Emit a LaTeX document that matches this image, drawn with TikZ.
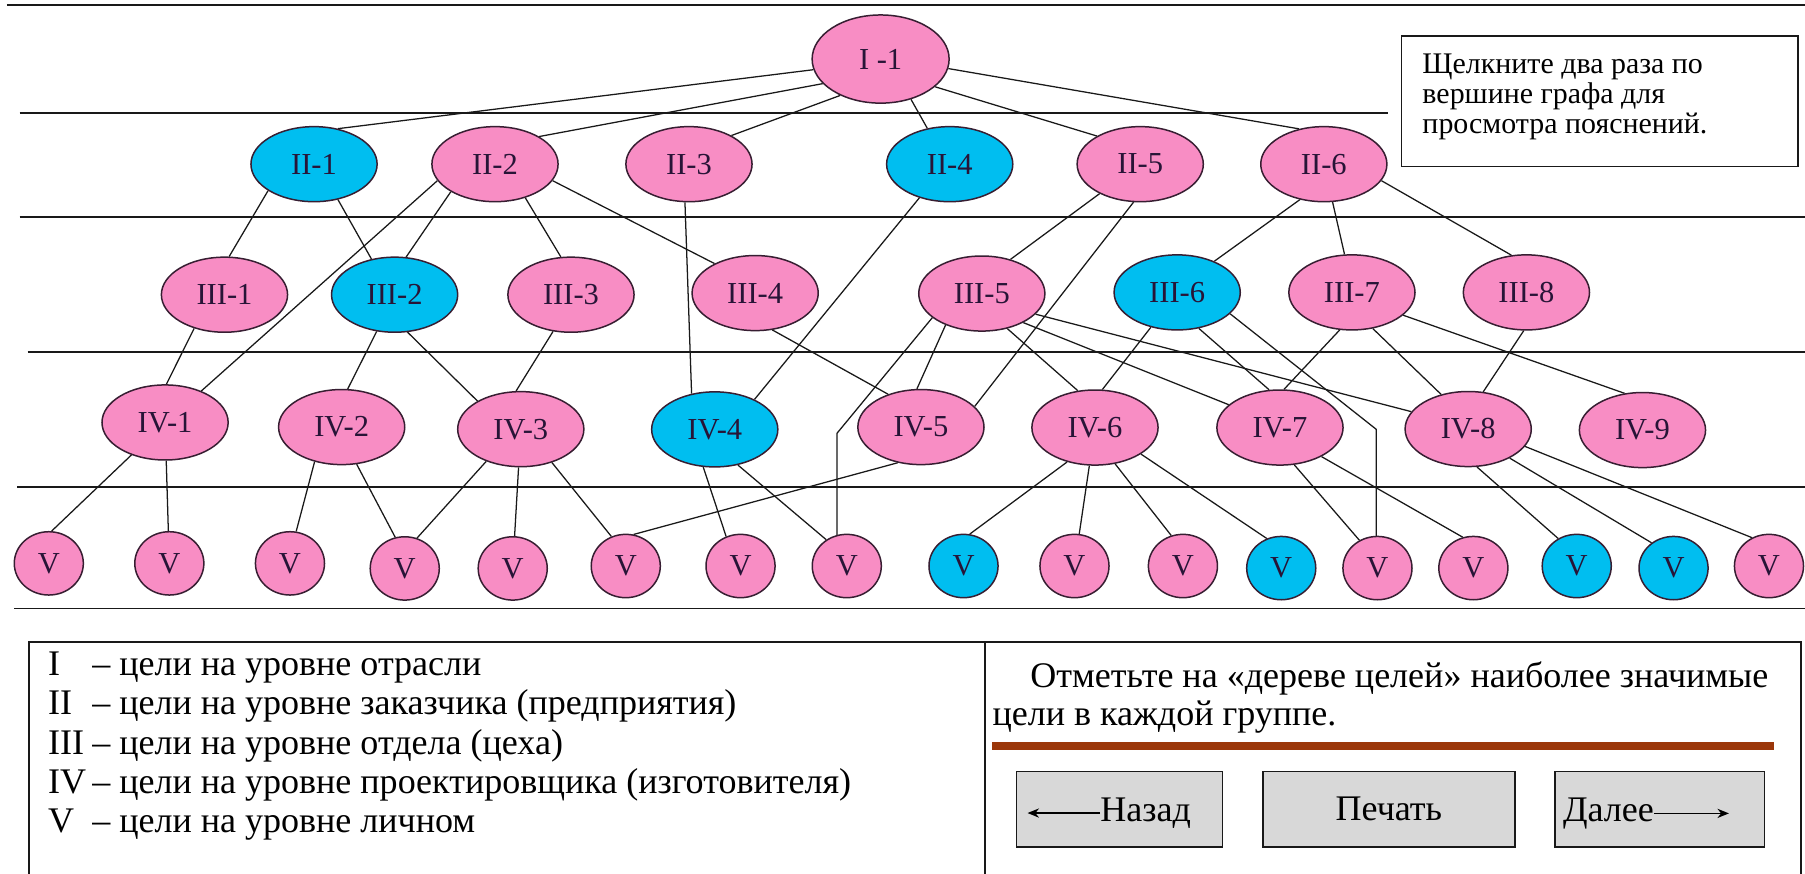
\documentclass[tikz,border=0pt]{standalone}
\usepackage{fontspec}
\setmainfont{Liberation Serif}
\usetikzlibrary{shapes.geometric,arrows.meta}
\pgfdeclarelayer{back}
\pgfsetlayers{back,main}

\definecolor{goalpink}{RGB}{248,141,196}
\definecolor{goalblue}{RGB}{0,190,240}
\definecolor{goalline}{RGB}{55,30,50}
\definecolor{goaltext}{RGB}{40,20,55}
\definecolor{barbrown}{RGB}{155,55,10}
\definecolor{btngray}{RGB}{216,216,216}

\tikzset{
  goal/.style={ellipse, draw=goalline, line width=1.3pt, inner sep=0pt,
    minimum width=109.6pt, minimum height=65.2pt, text=goaltext,
    font=\fontsize{26.5pt}{26.5pt}\selectfont},
  pk/.style={goal, fill=goalpink},
  bl/.style={goal, fill=goalblue},
  rootgoal/.style={pk, minimum width=119pt, minimum height=76.6pt},
  leafpk/.style={pk, minimum width=60pt, minimum height=55pt},
  leafbl/.style={bl, minimum width=60pt, minimum height=55pt},
  connector/.style={line width=1.1pt, draw=black!90},
  hrule/.style={line width=1.5pt, draw=black!90},
  panel/.style={draw=black!90, line width=1.5pt},
  btn/.style={draw=black!90, line width=1.3pt, fill=btngray, inner sep=0pt,
    minimum height=65.2pt, font=\fontsize{31.3pt}{31.3pt}\selectfont},
  txt/.style={inner sep=0pt, anchor=base west, font=\fontsize{31.3pt}{31.3pt}\selectfont},
  hinttxt/.style={inner sep=0pt, anchor=base west, font=\fontsize{26pt}{26pt}\selectfont},
  navarrow/.style={line width=1.4pt, -{Stealth[length=10pt,width=8pt]}},
}

\begin{document}
\begin{tikzpicture}[x=1pt,y=-1pt]
\useasboundingbox (0,0) rectangle (1568,759);

% level I
\node[rootgoal] (r) at (765,51.3) {I -1};
% level II
\node[bl] (a1) at (272.8,142.6) {II-1};
\node[pk] (a2) at (430,142.6) {II-2};
\node[pk] (a3) at (598.5,142.6) {II-3};
\node[bl] (a4) at (825,142.6) {II-4};
\node[pk] (a5) at (990.5,142.6) {II-5};
\node[pk] (a6) at (1150,142.6) {II-6};
% level III
\node[pk] (b1) at (195,256) {III-1};
\node[bl] (b2) at (342.8,256) {III-2};
\node[pk] (b3) at (496,256) {III-3};
\node[pk] (b4) at (656,254.6) {III-4};
\node[pk] (b5) at (852.9,255) {III-5};
\node[bl] (b6) at (1022.6,254) {III-6};
\node[pk] (b7) at (1174.4,254) {III-7};
\node[pk] (b8) at (1326,254) {III-8};
% level IV
\node[pk] (c1) at (143.4,367) {IV-1};
\node[pk] (c2) at (296.8,371) {IV-2};
\node[pk] (c3) at (452.4,372.8) {IV-3};
\node[bl] (c4) at (620.9,373) {IV-4};
\node[pk] (c5) at (800,371) {IV-5};
\node[pk] (c6) at (951.2,371.4) {IV-6};
\node[pk] (c7) at (1111.9,371.4) {IV-7};
\node[pk] (c8) at (1275.4,372.7) {IV-8};
\node[pk] (c9) at (1426.8,373.6) {IV-9};
% level V
\node[leafpk] (v1) at (42.4,489.4) {V};
\node[leafpk] (v2) at (147.1,489.4) {V};
\node[leafpk] (v3) at (251.9,489.4) {V};
\node[leafpk] (v4) at (351.6,493.8) {V};
\node[leafpk] (v5) at (445.4,493.8) {V};
\node[leafpk] (v6) at (543.6,491.7) {V};
\node[leafpk] (v7) at (643.3,491.7) {V};
\node[leafpk] (v8) at (735.6,491.7) {V};
\node[leafbl] (v9) at (837,491.7) {V};
\node[leafpk] (v10) at (933.4,491.7) {V};
\node[leafpk] (v11) at (1027.6,491.7) {V};
\node[leafbl] (v12) at (1113,493.5) {V};
\node[leafpk] (v13) at (1196.6,493.5) {V};
\node[leafpk] (v14) at (1279.9,493.5) {V};
\node[leafbl] (v15) at (1369.7,491.7) {V};
\node[leafbl] (v16) at (1453.8,493.5) {V};
\node[leafpk] (v17) at (1536.7,491.7) {V};

% bend points of the two broken connectors
\coordinate (k1) at (727,376.5);
\coordinate (k2) at (1195.6,373);

% hint box
\node[draw=black!90, line width=1.3pt, minimum width=344.7pt, minimum height=113.7pt, inner sep=0pt] (hint) at (1389.6,88) {};
\node[hinttxt] (h1) at (1235.5,64) {Щелкните два раза по};
\node[hinttxt] (h2) at (1235.5,90) {вершине графа для};
\node[hinttxt] (h3) at (1235.5,116) {просмотра пояснений.};

% legend
\node[txt] (lg1) at (41.6,587) {\makebox[38.4pt][l]{I}– цели на уровне отрасли};
\node[txt] (lg2) at (41.6,621) {\makebox[38.4pt][l]{II}– цели на уровне заказчика (предприятия)};
\node[txt] (lg3) at (41.6,655) {\makebox[38.4pt][l]{III}– цели на уровне отдела (цеха)};
\node[txt] (lg4) at (41.6,689) {\makebox[38.4pt][l]{IV}– цели на уровне проектировщика (изготовителя)};
\node[txt] (lg5) at (41.6,723) {\makebox[38.4pt][l]{V}– цели на уровне личном};

% instruction
\node[txt] (note1) at (894.9,597) {Отметьте на «дереве целей» наиболее значимые};
\node[txt] (note2) at (862,630) {цели в каждой группе.};

% buttons
\node[btn, minimum width=179pt] (bback) at (972.5,703) {};
\node[btn, minimum width=219pt] (bprint) at (1206.5,703) {Печать};
\node[btn, minimum width=182pt] (bnext) at (1442,703) {};
\node[txt] (nz) at (955.6,713.5) {Назад};
\node[txt] (dl) at (1357.6,713.5) {Далее};
\coordinate (nzend) at ([xshift=-63pt]nz.west);
\coordinate (dlend) at ([xshift=65pt]dl.east);
\draw[navarrow] (nz.west) -- (nzend);
\draw[navarrow] (dl.east) -- (dlend);

\begin{pgfonlayer}{back}
  \fill[white] (0,0) rectangle (1568,759);
  % level separators
  \draw[hrule] (6,4.3) -- (1568,4.3);
  \draw[hrule] (17,97.9) -- (1205.6,97.9);
  \draw[hrule] (17,188.5) -- (1568,188.5);
  \draw[hrule] (24,305.6) -- (1568,305.6);
  \draw[hrule] (15,423) -- (1568,423);
  \draw[hrule] (12.5,528.5) -- (1568,528.5);
  % lower panels
  \draw[panel] (24.9,759) -- (24.9,557.5) -- (1564.5,557.5) -- (1564.5,759);
  \draw[panel] (855.8,557.5) -- (855.8,759);
  \draw[line width=7pt, barbrown] (862,648) -- (1541,648);

  % I -> II
  \draw[connector] (r.189) -- (a1.56);
  \draw[connector] (r.203) -- (a2.32);
  \draw[connector] (r.222) -- (a3.34);
  \draw[connector] (r.307) -- (a4.122);
  \draw[connector] (r.333) -- (a5.147);
  \draw[connector] (r.352) -- (a6.125);
  % II -> III / IV
  \draw[connector] (a1.210) -- (b1.83);
  \draw[connector] (a1.304) -- (b2.123);
  \draw[connector] (a2.196) -- (c1.41);
  \draw[connector] (a2.212) -- (b2.73);
  \draw[connector] (a2.312) -- (b3.105);
  \draw[connector] (a2.344) -- (b4.144);
  \draw[connector] (a3.264) -- (c4.123);
  \draw[connector] (a4.228) -- (c4.37);
  \draw[connector] (a5.216) -- (b5.50);
  \draw[connector] (a5.260) -- (c5.21);
  \draw[connector] (a6.236) -- (b6.40);
  \draw[connector] (a6.283) -- (b7.101);
  \draw[connector] (a6.344) -- (b8.112);
  % III -> IV / V
  \draw[connector] (b1.228) -- (c1.88);
  \draw[connector] (b2.244) -- (c2.81);
  \draw[connector] (b2.289) -- (c3.147);
  \draw[connector] (b3.244) -- (c3.97);
  \draw[connector] (b4.295) -- (c5.135);
  \draw[connector] (b5.221) -- (c5.96);
  \draw[connector] (b5.206) -- (k1) -- (k1 |- v8.center);
  \draw[connector] (b5.306) -- (c6.115);
  \draw[connector] (b5.325) -- (c7.156);
  \draw[connector] (b5.339) -- (c8.163);
  \draw[connector] (b6.233) -- (c6.79);
  \draw[connector] (b6.301) -- (c7.106);
  \draw[connector] (b6.338) -- (k2) -- (k2 |- v13.center);
  \draw[connector] (b7.252) -- (c7.84);
  \draw[connector] (b7.300) -- (c8.128);
  \draw[connector] (b7.336) -- (c9.116);
  \draw[connector] (b8.266) -- (c8.68);
  % IV -> V
  \draw[connector] (c1.224) -- (v1.85);
  \draw[connector] (c1) -- (v2);
  \draw[connector] (c2.232) -- (v3.79);
  \draw[connector] (c2.292) -- (v4.107);
  \draw[connector] (c3.223) -- (v4.68);
  \draw[connector] (c3) -- (v5);
  \draw[connector] (c3.313) -- (v6.116);
  \draw[connector] (c4.253) -- (v7.116);
  \draw[connector] (c4.303) -- (v8.128);
  \draw[connector] (c5.237) -- (v6.76);
  \draw[connector] (c6.231) -- (v9.79);
  \draw[connector] (c6) -- (v10);
  \draw[connector] (c6.299) -- (v11.111);
  \draw[connector] (c6.330) -- (v12.116);
  \draw[connector] (c7.291) -- (v13.123);
  \draw[connector] (c7.325) -- (v14.109);
  \draw[connector] (c8.283) -- (v15.124);
  \draw[connector] (c8.325) -- (v16.131);
  \draw[connector] (c8.343) -- (v17.121);
\end{pgfonlayer}
\end{tikzpicture}
\end{document}
